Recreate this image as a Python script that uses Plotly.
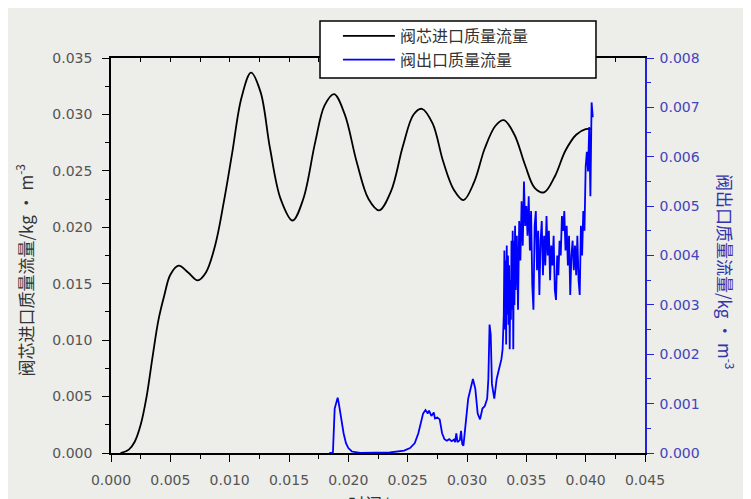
import plotly.graph_objects as go

# Black series: 阀芯进口质量流量 (left axis)
inlet_t = [0.0008, 0.0015, 0.0020, 0.0025, 0.0030, 0.0035, 0.0040, 0.0045, 0.0050, 0.0057,
           0.0065, 0.0073, 0.0080, 0.0088, 0.0095, 0.0102, 0.0110, 0.0118, 0.0126, 0.0134,
           0.0143, 0.0153, 0.0162, 0.0172, 0.0180, 0.0188, 0.0197, 0.0207, 0.0217, 0.0226,
           0.0236, 0.0246, 0.0255, 0.0262, 0.0271, 0.0280, 0.0289, 0.0297, 0.0306, 0.0315,
           0.0324, 0.0331, 0.0340, 0.0349, 0.0357, 0.0365, 0.0374, 0.0383, 0.0392, 0.0400,
           0.0405]
inlet_q = [0.0000, 0.0003, 0.0010, 0.0025, 0.0050, 0.0085, 0.0118, 0.0140, 0.0158, 0.0166,
           0.0160, 0.0153, 0.0160, 0.0185, 0.0222, 0.0265, 0.0315, 0.0337, 0.0320, 0.0270,
           0.0225, 0.0206, 0.0225, 0.0275, 0.0308, 0.0318, 0.0300, 0.0258, 0.0225, 0.0215,
           0.0232, 0.0272, 0.0300, 0.0305, 0.0292, 0.0258, 0.0233, 0.0224, 0.0240, 0.0270,
           0.0290, 0.0295, 0.0282, 0.0255, 0.0235, 0.0231, 0.0245, 0.0268, 0.0282, 0.0287,
           0.0287]

# Blue series: 阀出口质量流量 (right axis)
outlet_t = [0.0184, 0.0187, 0.01885, 0.0190, 0.0191, 0.0192, 0.0194, 0.0196, 0.0198, 0.0200,
            0.0203, 0.0207, 0.0210, 0.0235, 0.0242, 0.0247, 0.0252, 0.0256, 0.0259, 0.0261,
            0.0263, 0.0265, 0.0267, 0.0268, 0.0270, 0.0272, 0.0273, 0.0275, 0.0277, 0.0279,
            0.0281, 0.0283, 0.0285, 0.0287, 0.0289, 0.0290, 0.0291, 0.0292, 0.0294, 0.0295,
            0.0296, 0.0297, 0.0299, 0.0301, 0.0303, 0.0305, 0.0307, 0.0309, 0.0311, 0.0313,
            0.0315, 0.0317, 0.0318, 0.0319, 0.0320, 0.0321, 0.0323, 0.0325, 0.0327, 0.0329,
            0.0330, 0.0331, 0.03315, 0.0332, 0.03325, 0.0333, 0.03335, 0.0334, 0.03345, 0.0335,
            0.03355, 0.0336, 0.03365, 0.0337, 0.03375, 0.0338, 0.03385, 0.0339, 0.03395, 0.0340,
            0.03405, 0.0341, 0.0342, 0.0343, 0.0344, 0.0345, 0.0346, 0.0347, 0.0348, 0.0349,
            0.0350, 0.0351, 0.0352, 0.0353, 0.0354, 0.0355, 0.0356, 0.0357, 0.0358, 0.0359,
            0.0360, 0.0361, 0.0362, 0.0363, 0.0364, 0.0365, 0.0366, 0.0367, 0.0368, 0.0369,
            0.0370, 0.0371, 0.0372, 0.0373, 0.0374, 0.0375, 0.0376, 0.0377, 0.0378, 0.0379,
            0.0380, 0.0381, 0.0382, 0.0383, 0.0384, 0.0385, 0.0386, 0.0387, 0.0388, 0.0389,
            0.0390, 0.0391, 0.0392, 0.0393, 0.0394, 0.0395, 0.0396, 0.0397, 0.0398, 0.0399,
            0.0400, 0.0401, 0.0402, 0.0403, 0.0404, 0.0405, 0.0406]
outlet_q = [0.0, 0.0, 0.0009, 0.00105, 0.00112, 0.00100, 0.0007, 0.0004, 0.0002, 0.0001,
            0.00003, 0.00002, 0.0, 0.00001, 0.00003, 0.00005, 0.0001, 0.0002, 0.0004, 0.0006,
            0.0008, 0.00087, 0.0008, 0.00086, 0.00075, 0.00082, 0.00070, 0.00072, 0.00068, 0.0004,
            0.00028, 0.00025, 0.00028, 0.00024, 0.00027, 0.00022, 0.0004, 0.00022, 0.00026, 0.00045,
            0.00018, 0.00015, 0.0006, 0.0011, 0.0013, 0.0015, 0.0013, 0.0008, 0.00068, 0.0009,
            0.00095, 0.0011, 0.0015, 0.0026, 0.0024, 0.0014, 0.0011, 0.0015, 0.0017, 0.0019,
            0.0021, 0.0028, 0.0041, 0.0025, 0.0039, 0.0022, 0.0042, 0.0028, 0.0040, 0.0026,
            0.0038, 0.0021, 0.0035, 0.0027, 0.0043, 0.0029, 0.0045, 0.0021, 0.0043, 0.0030,
            0.0046, 0.0033, 0.0044, 0.0029, 0.0047, 0.0039, 0.0051, 0.0042, 0.0055, 0.0046,
            0.0050, 0.0044, 0.0052, 0.0041, 0.0049, 0.0034, 0.0029, 0.0046, 0.0049, 0.0037,
            0.0045, 0.0032, 0.0043, 0.0047, 0.0036, 0.0044, 0.0038, 0.0048, 0.0040, 0.0045,
            0.0035, 0.0042, 0.0038, 0.0044, 0.0033, 0.0031, 0.0040, 0.0036, 0.0043, 0.0040,
            0.0048, 0.0045, 0.0049, 0.0041, 0.0046, 0.0038, 0.0044, 0.0032, 0.0040, 0.0043,
            0.0037, 0.0042, 0.0036, 0.0044, 0.0035, 0.0032, 0.0046, 0.0040, 0.0049, 0.0045,
            0.0058, 0.0061, 0.0057, 0.0066, 0.0052, 0.0071, 0.0068]

series_names = ["阀芯进口质量流量", "阀出口质量流量"]
x_title = "时间/s"
y_title = "阀芯进口质量流量/kg • m<sup>-3</sup>"
y2_title = "阀出口质量流量/kg • m<sup>-3</sup>"

BG = "#ededea"
TICKFONT = dict(family="DejaVu Sans, Arial", size=14, color="#555555")
CJK = "Noto Sans CJK SC"
BLUE = "#2222dd"

fig = go.Figure()
fig.add_trace(go.Scatter(x=inlet_t, y=inlet_q, mode="lines", name=series_names[0],
                         line=dict(color="black", width=1.8, shape="spline", smoothing=1.0),
                         yaxis="y"))
fig.add_trace(go.Scatter(x=outlet_t, y=outlet_q, mode="lines", name=series_names[1],
                         line=dict(color="#0000ff", width=1.8), yaxis="y2"))
# invisible trace to anchor the top decorative axis
fig.add_trace(go.Scatter(x=[0, 0.045], y=[0, 0], mode="markers", marker=dict(opacity=0),
                         xaxis="x2", yaxis="y", showlegend=False, hoverinfo="skip"))

fig.update_layout(
    width=743, height=491,
    margin=dict(l=103, r=106, t=50, b=46, autoexpand=False),
    paper_bgcolor=BG, plot_bgcolor=BG,
    showlegend=True,
    legend=dict(x=0.425, y=1.099, xanchor="left", yanchor="top",
                bgcolor="rgba(0,0,0,0)", borderwidth=0,
                font=dict(family=CJK, size=16, color="#333333"),
                itemwidth=52, tracegroupgap=0),
    shapes=[dict(type="rect", xref="paper", yref="paper",
                 x0=0.3914, x1=0.9082, y0=0.9494, y1=1.0937,
                 fillcolor="white", line=dict(color="black", width=1.5), layer="above")],
    xaxis=dict(range=[0, 0.045], dtick=0.005, tickformat=".3f",
               showline=True, linecolor="black", linewidth=1.5,
               ticks="outside", ticklen=7, tickwidth=1.2, tickcolor="black",
               ticklabelstandoff=6,
               minor=dict(dtick=0.0025, ticks="outside", ticklen=4, tickcolor="black"),
               showgrid=False, zeroline=False, tickfont=TICKFONT),
    xaxis2=dict(range=[0, 0.045], overlaying="x", side="top", anchor="y",
                showline=True, linecolor="black", linewidth=1.5,
                ticks="inside", ticklen=4, tickcolor="black", dtick=0.0025,
                showticklabels=False, showgrid=False, zeroline=False),
    yaxis=dict(range=[0, 0.035], dtick=0.005, tickformat=".3f",
               showline=True, linecolor="black", linewidth=1.5,
               ticks="outside", ticklen=7, tickwidth=1.2, tickcolor="black",
               ticklabelstandoff=7,
               minor=dict(dtick=0.0025, ticks="outside", ticklen=4, tickcolor="black"),
               showgrid=False, zeroline=False, tickfont=TICKFONT),
    yaxis2=dict(range=[0, 0.008], dtick=0.001, tickformat=".3f",
                overlaying="y", side="right", anchor="x",
                showline=True, linecolor=BLUE, linewidth=1.5,
                ticks="outside", ticklen=7, tickwidth=1.2, tickcolor=BLUE,
                ticklabelstandoff=3,
                minor=dict(dtick=0.0005, ticks="outside", ticklen=4, tickcolor=BLUE),
                showgrid=False, zeroline=False,
                tickfont=dict(family="DejaVu Sans, Arial", size=14, color="#4444bb")),
    annotations=[
        dict(text=y_title, xref="paper", yref="paper", x=-0.162, y=0.463,
             textangle=-90, showarrow=False, xanchor="center", yanchor="middle",
             font=dict(family=CJK, size=17, color="#333333")),
        dict(text=y2_title, xref="paper", yref="paper", x=1.152, y=0.458,
             textangle=90, showarrow=False, xanchor="center", yanchor="middle",
             font=dict(family=CJK, size=17, color="#3333aa")),
        dict(text=x_title, xref="paper", yref="paper", x=0.49, y=-0.09,
             showarrow=False, xanchor="center", yanchor="top",
             font=dict(family=CJK, size=17, color="#333333")),
    ],
)

fig.write_html("out.html")
